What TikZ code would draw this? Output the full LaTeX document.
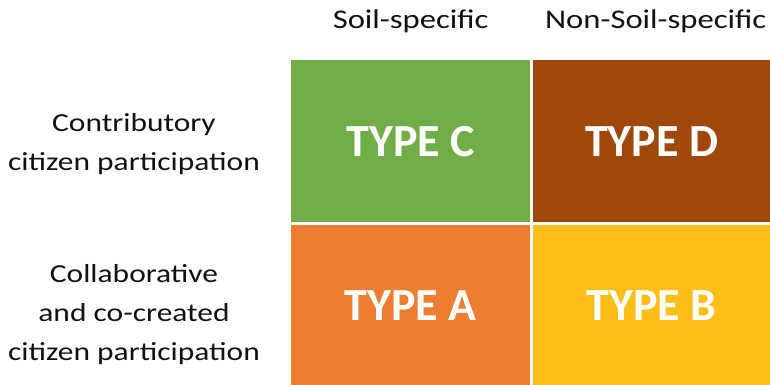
\documentclass[tikz,border=0pt]{standalone}
\usepackage{fontspec}
\setmainfont{Carlito}
\newfontfamily\labelfont[FakeStretch=1.21]{Carlito}
\usepackage{xcolor}
\usetikzlibrary{positioning}

\definecolor{soilgreen}{HTML}{70AD47}
\definecolor{soilbrown}{HTML}{9E480E}
\definecolor{soilorange}{HTML}{ED7D31}
\definecolor{soilgold}{HTML}{FBBE18}
\definecolor{labelgray}{HTML}{111111}

\tikzset{
    cell/.style={rectangle, inner sep=0pt, anchor=north west, text=white,
        font=\fontsize{46}{50}\selectfont\bfseries},
    header/.style={text=labelgray, font=\labelfont\fontsize{27}{30}\selectfont, inner sep=0pt},
    rowlabel/.style={text=labelgray, align=center, inner sep=0pt,
        font=\labelfont\fontsize{26}{39}\selectfont}
}

\begin{document}
\begin{tikzpicture}[x=1pt, y=-1pt]

    % Canvas
    \useasboundingbox (0,0) rectangle (770,385);

    % --- Grid of types ---
    \node[cell, fill=soilgreen, minimum width=239pt, minimum height=162pt] (typeC) at (291,60) {TYPE C};
    \node[cell, fill=soilbrown, minimum width=237pt, minimum height=162pt] (typeD) at (533,60) {TYPE D};
    \node[cell, fill=soilorange, minimum width=239pt, minimum height=160pt] (typeA) at (291,225) {TYPE A};
    \node[cell, fill=soilgold, minimum width=237pt, minimum height=160pt] (typeB) at (533,225) {TYPE B};

    % --- Column headers ---
    \node[header, above=27pt of typeC.north] (soil) {Soil-specific};
    \node[header, above=27pt of typeD.north, xshift=4pt] (nonsoil) {Non-Soil-specific};

    % --- Row labels ---
    \node[rowlabel] (contrib) at (134,144) {Contributory\\citizen participation};
    \node[rowlabel] (collab) at (134,315) {Collaborative\\and co-created\\citizen participation};

\end{tikzpicture}
\end{document}
